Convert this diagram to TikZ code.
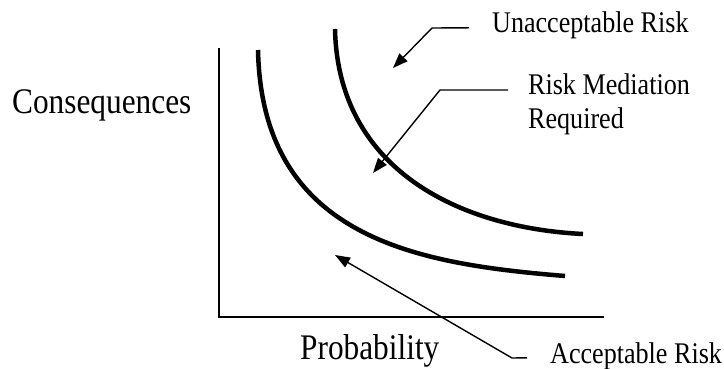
\documentclass[tikz,border=0pt]{standalone}
\usepackage{fontspec}
\setmainfont{Liberation Serif}
\usetikzlibrary{arrows.meta, positioning, calc}

\begin{document}
\begin{tikzpicture}[x=1pt, y=-1pt,
    riskLabel/.style={font=\fontsize{30}{34}\selectfont, xscale=0.87, transform shape, inner sep=0pt, anchor=base west},
    axisLabel/.style={font=\fontsize{36}{40}\selectfont, xscale=0.87, transform shape, inner sep=0pt, anchor=base west},
    pointer/.style={-{Triangle[length=15pt, width=11pt]}, line width=1.4pt},
    boundary/.style={line width=4.5pt}]
    \useasboundingbox (0,0) rectangle (724,368);
    % axes
    \coordinate (yTop) at (219,48);
    \coordinate (origin) at (219,317);
    \coordinate (xEnd) at (604,317);
    \draw[line width=2.2pt] (yTop) -- (origin) -- (xEnd);
    \node[axisLabel] (consLabel) at (12,113) {Consequences};
    \node[axisLabel] (probLabel) at (300,359) {Probability};
    % risk boundaries
    \draw[boundary] (258,50) .. controls (262,240) and (420,264) .. (565,276);
    \draw[boundary] (335,29) .. controls (338,170) and (460,228) .. (583,234);
    % labels and pointers
    \node[riskLabel] (unaccLabel) at (492,32) {Unacceptable Risk};
    \node[riskLabel, anchor=north west, align=left] (medLabel) at (528,73) {Risk Mediation\\Required};
    \node[riskLabel] (accLabel) at (550,363) {Acceptable Risk};
    \coordinate (unaccBend) at (432,28);
    \coordinate (unaccTip) at (393,68);
    \coordinate (medBend) at (440,90);
    \coordinate (medTip) at (373,173);
    \coordinate (accBend) at (512,358);
    \coordinate (accTip) at (335,255);
    \draw[pointer] ($(unaccLabel.west)+(-23,3)$) -- (unaccBend) -- (unaccTip);
    \draw[pointer] ($(medLabel.north west)+(-20,17)$) -- (medBend) -- (medTip);
    \draw[pointer] ($(accLabel.west)+(-23,2)$) -- (accBend) -- (accTip);
\end{tikzpicture}
\end{document}
